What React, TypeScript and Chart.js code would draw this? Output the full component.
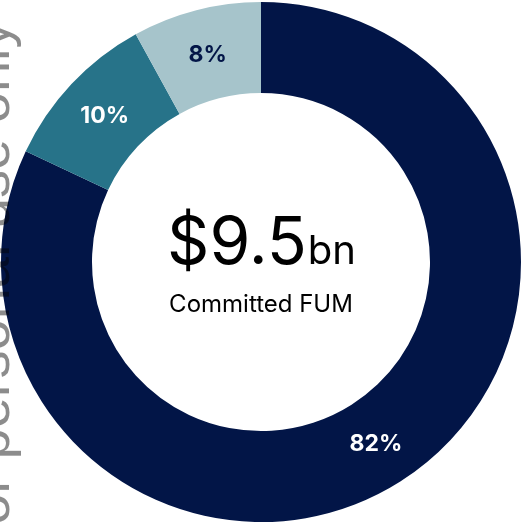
import React, { useEffect, useRef } from "react";
import { Chart, registerables } from "chart.js";

Chart.register(...registerables);

const categories = ["Segment A", "Segment B", "Segment C"];
const shares = [82, 10, 8];
const sliceLabels = ["82%", "10%", "8%"];
const sliceColors = ["#021547", "#277389", "#A6C4CB"];
const labelColors = ["#FFFFFF", "#FFFFFF", "#021547"];
const headlineValue = "$9.5";
const headlineUnit = "bn";
const headlineCaption = "Committed FUM";
const watermarkText = "For personal use only";

const labelPlugin = {
  id: "sliceLabels",
  afterDatasetsDraw(chart: any) {
    const ctx = chart.ctx;
    const meta = chart.getDatasetMeta(0);
    ctx.save();
    ctx.textAlign = "center";
    ctx.textBaseline = "middle";
    ctx.font = "bold 23px Inter";
    meta.data.forEach((arc: any, i: number) => {
      const p = arc.tooltipPosition();
      ctx.fillStyle = labelColors[i];
      ctx.fillText(sliceLabels[i], p.x, p.y + 1);
    });
    // center text
    const area = chart.chartArea;
    const cx = (area.left + area.right) / 2;
    const cy = (area.top + area.bottom) / 2;
    ctx.textBaseline = "alphabetic";
    ctx.textAlign = "left";
    ctx.fillStyle = "#000000";
    const bigFont = "400 66px Inter";
    const smallFont = "400 40px Inter";
    ctx.font = bigFont;
    const w1 = ctx.measureText(headlineValue).width;
    ctx.font = smallFont;
    const w2 = ctx.measureText(headlineUnit).width;
    const startX = cx - (w1 + w2) / 2;
    ctx.font = bigFont;
    ctx.fillText(headlineValue, startX, cy + 2);
    ctx.font = smallFont;
    ctx.fillText(headlineUnit, startX + w1 + 1, cy + 2);
    ctx.textAlign = "center";
    ctx.font = "400 24px Inter";
    ctx.fillText(headlineCaption, cx, cy + 50);
    ctx.restore();
  },
};

export default function App() {
  const ref = useRef<HTMLCanvasElement | null>(null);
  useEffect(() => {
    if (!ref.current) return;
    const chart = new Chart(ref.current, {
      type: "doughnut",
      data: {
        labels: categories,
        datasets: [
          {
            data: shares,
            backgroundColor: sliceColors,
            borderWidth: 0,
          },
        ],
      },
      options: {
        animation: false,
        responsive: true,
        maintainAspectRatio: false,
        cutout: "65%",
        layout: { padding: { left: 1, right: 2, top: 1, bottom: 2 } },
        plugins: {
          legend: { display: false },
          tooltip: { enabled: false },
        },
      },
      plugins: [labelPlugin],
    });
    return () => chart.destroy();
  }, []);

  return (
    <div
      style={{
        position: "fixed",
        left: 0,
        top: 0,
        width: 523,
        height: 525,
        overflow: "hidden",
        background: "#ffffff",
      }}
    >
      <div style={{ position: "absolute", left: 0, top: 0, width: 523, height: 525 }}>
        <canvas ref={ref} />
      </div>
      <span
        style={{
          position: "absolute",
          left: -38,
          top: 559,
          transform: "rotate(-90deg)",
          transformOrigin: "left top",
          whiteSpace: "nowrap",
          fontFamily: "'Liberation Sans', Arial, sans-serif",
          fontSize: 56,
          lineHeight: 1,
          color: "rgba(0,0,0,0.45)",
          pointerEvents: "none",
        }}
      >
        {watermarkText}
      </span>
    </div>
  );
}
